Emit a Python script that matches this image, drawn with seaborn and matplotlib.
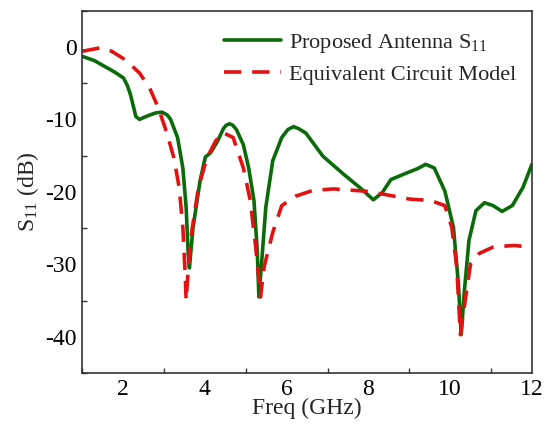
import numpy as np
import pandas as pd
import seaborn as sns
import matplotlib
matplotlib.use("Agg")
import matplotlib.pyplot as plt
from matplotlib.ticker import MultipleLocator

# Proposed antenna S11
freq_ant = [1.0, 1.30, 1.55, 1.80, 2.01, 2.10, 2.18, 2.31, 2.40, 2.52, 2.65, 2.80, 2.95, 3.08, 3.16, 3.33,
            3.46, 3.54, 3.59, 3.62, 3.71, 3.88, 4.01, 4.14, 4.31, 4.45, 4.52, 4.60, 4.68, 4.77, 4.94, 5.07,
            5.20, 5.28, 5.32, 5.38, 5.49, 5.66, 5.88, 6.03, 6.17, 6.30, 6.47, 6.89, 7.40, 7.83, 8.12, 8.34,
            8.55, 8.85, 9.20, 9.40, 9.61, 9.87, 10.08, 10.20, 10.27, 10.35, 10.46, 10.63, 10.84, 11.05,
            11.27, 11.52, 11.78, 12.0]
s11_ant = [-1.3, -1.9, -2.7, -3.5, -4.3, -5.3, -6.6, -9.6, -10.0, -9.7, -9.4, -9.1, -9.0, -9.4, -10.0, -12.5,
           -16.7, -22.1, -28.5, -30.5, -24.9, -18.5, -15.2, -14.6, -13.0, -11.3, -10.8, -10.6, -10.8, -11.4,
           -13.5, -16.7, -21.2, -28.1, -34.5, -30.3, -22.1, -15.7, -12.5, -11.4, -11.0, -11.3, -11.9, -15.1,
           -17.6, -19.6, -21.1, -20.1, -18.3, -17.6, -16.8, -16.2, -16.7, -19.9, -24.9, -32.6, -39.7, -33.5,
           -26.7, -22.6, -21.5, -21.9, -22.7, -21.9, -19.4, -16.2]

# Equivalent circuit model
freq_ecm = [1.0, 1.46, 1.72, 2.06, 2.40, 2.65, 2.86, 3.07, 3.24, 3.37, 3.46, 3.52, 3.54,
            3.60, 3.67, 3.84, 4.05, 4.26, 4.43, 4.69, 4.94, 5.11, 5.24, 5.36, 5.45, 5.66,
            5.88, 6.22, 6.64, 7.15, 7.91, 8.34, 9.01, 9.52, 9.87, 10.04, 10.16, 10.25, 10.37,
            10.50, 10.71, 11.06, 11.56, 11.90]
s11_ecm = [-0.6, -0.1, -0.6, -1.8, -3.6, -5.7, -8.4, -11.9, -15.3, -19.4, -24.9, -31.7, -35.0,
           -30.0, -25.8, -19.4, -15.3, -13.0, -11.8, -12.5, -16.7, -21.2, -27.5, -34.5, -30.3, -25.6,
           -21.9, -20.6, -19.8, -19.6, -19.9, -20.3, -21.0, -21.2, -21.9, -24.9, -30.3, -39.7, -34.9,
           -29.9, -28.5, -27.6, -27.4, -27.6]

labels = ["Proposed Antenna S$_{11}$", "Equivalent Circuit Model"]

sns.set_theme(style="white")
plt.rcParams["font.family"] = ["Liberation Serif", "DejaVu Serif"]
plt.rcParams["mathtext.fontset"] = "custom"
plt.rcParams["mathtext.rm"] = "Liberation Serif"
plt.rcParams["mathtext.it"] = "Liberation Serif:italic"
plt.rcParams["axes.unicode_minus"] = False

fig = plt.figure(figsize=(5.45, 4.30), dpi=100)
ax = fig.add_axes([0.151, 0.1326, 0.825, 0.8425])

df_a = pd.DataFrame({"f": freq_ant, "s": s11_ant})
df_e = pd.DataFrame({"f": freq_ecm, "s": s11_ecm})

sns.lineplot(data=df_a, x="f", y="s", ax=ax, color="#0b6b0b", lw=2.6, label=labels[0], sort=False)
sns.lineplot(data=df_e, x="f", y="s", ax=ax, color="#e31212", lw=2.6, label=labels[1], sort=False,
             dashes=False)
ax.lines[1].set_dashes([4.8, 3.0])
for ln in ax.lines:
    ln.set_solid_joinstyle("round")

ax.set_xlim(1, 12)
ax.set_ylim(-45, 5)
ax.xaxis.set_major_locator(MultipleLocator(2))
ax.xaxis.set_minor_locator(MultipleLocator(1))
ax.yaxis.set_major_locator(MultipleLocator(10))
ax.yaxis.set_minor_locator(MultipleLocator(5))
ax.tick_params(which="both", direction="in", top=False, right=False, labelsize=17,
               colors="#333333", labelcolor="black")
ax.tick_params(which="major", length=6, width=1, pad=4)
ax.tick_params(which="minor", length=3.5, width=1, bottom=True, left=True)
for sp in ax.spines.values():
    sp.set_color("#333333")
    sp.set_linewidth(1.2)

ax.set_xlabel("Freq (GHz)", fontsize=17, labelpad=-1)
ax.set_ylabel("S$_{11}$ (dB)", fontsize=17, labelpad=3)

leg = ax.legend(loc="upper right", frameon=False, fontsize=16, handlelength=2.6,
                handletextpad=0.35, labelspacing=0.45, borderaxespad=0.3,
                bbox_to_anchor=(1.0, 0.985))
leg.get_lines()[1].set_dashes([4.8, 3.0])

fig.savefig("out.png", dpi=100)
